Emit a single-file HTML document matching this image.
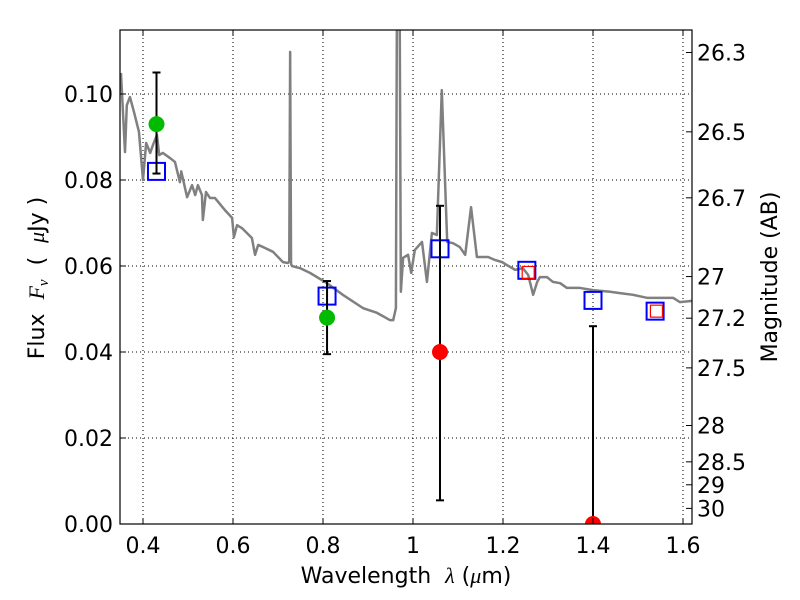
<!DOCTYPE html>
<html><head><meta charset="utf-8"><style>
body{margin:0;background:#fff;}
svg{display:block;font-family:"DejaVu Sans","Liberation Sans",sans-serif;}
</style></head><body>
<svg id="chart" width="800" height="600">
<defs><clipPath id="clip"><rect x="120" y="30" width="572" height="494"/></clipPath></defs>
<rect x="0" y="0" width="800" height="600" fill="#fff"/>
<g id="grid"></g>
<g id="spec" clip-path="url(#clip)"></g>
<g id="marks" clip-path="url(#clip)"></g>
<rect x="120" y="30" width="572" height="494" fill="none" stroke="#000" stroke-width="1.2"/>
<g id="axes"></g>
<text x="406" y="583" font-size="22" text-anchor="middle" xml:space="preserve">Wavelength  <tspan font-family="Liberation Serif" font-style="italic">λ</tspan> (<tspan font-family="Liberation Serif" font-style="italic">μ</tspan>m)</text>
<text transform="translate(44,278) rotate(-90)" font-size="22" text-anchor="middle" xml:space="preserve">Flux  <tspan font-family="Liberation Serif" font-style="italic">F</tspan><tspan font-family="Liberation Serif" font-style="italic" font-size="15" dy="4">ν</tspan><tspan dy="-4">  (  </tspan><tspan font-family="Liberation Serif" font-style="italic">μ</tspan>Jy )</text>
<text transform="translate(777,277) rotate(-90)" font-size="22" text-anchor="middle">Magnitude (AB)</text>
</svg>
<script>
const xTicks=[0.4,0.6,0.8,1.0,1.2,1.4,1.6];
const xTickLabels=["0.4","0.6","0.8","1","1.2","1.4","1.6"];
const yTicks=[0,0.02,0.04,0.06,0.08,0.10];
const yTickLabels=["0.00","0.02","0.04","0.06","0.08","0.10"];
const magTicks=[26.3,26.5,26.7,27,27.2,27.5,28,28.5,29,30];
const specWave=[0.351,0.360,0.364,0.371,0.380,0.391,0.400,0.407,0.416,0.422,0.431,0.436,0.444,0.460,0.471,0.482,0.485,0.498,0.509,0.516,0.522,0.531,0.533,0.540,0.549,0.560,0.582,0.598,0.602,0.609,0.620,0.642,0.649,0.656,0.667,0.689,0.711,0.722,0.725,0.727,0.729,0.731,0.749,0.771,0.809,0.844,0.889,0.920,0.949,0.956,0.962,0.964,0.966,0.970,0.973,0.978,0.989,0.996,1.004,1.020,1.031,1.042,1.053,1.064,1.076,1.089,1.104,1.116,1.129,1.142,1.167,1.182,1.198,1.209,1.227,1.244,1.256,1.267,1.276,1.282,1.298,1.311,1.327,1.342,1.371,1.400,1.438,1.460,1.489,1.520,1.549,1.578,1.593,1.620];
const specFlux=[0.1049,0.0865,0.0974,0.0993,0.0958,0.0912,0.0800,0.0886,0.0863,0.0881,0.0905,0.0858,0.0863,0.0851,0.0842,0.0795,0.0820,0.0760,0.0788,0.0765,0.0788,0.0765,0.0707,0.0772,0.0758,0.0758,0.0730,0.0712,0.0667,0.0695,0.0688,0.0665,0.0626,0.0649,0.0644,0.0633,0.0609,0.0607,0.0610,0.1098,0.0605,0.0600,0.0595,0.0584,0.0560,0.0533,0.0502,0.0491,0.0474,0.0474,0.0502,0.1137,0.13,0.13,0.0540,0.0619,0.0626,0.0584,0.0637,0.0656,0.0563,0.0677,0.0672,0.1009,0.0656,0.0653,0.0644,0.0626,0.0737,0.0621,0.0621,0.0614,0.0609,0.0602,0.0591,0.0595,0.0579,0.0533,0.0563,0.0574,0.0574,0.0563,0.0560,0.0549,0.0549,0.0544,0.0540,0.0537,0.0533,0.0526,0.0526,0.0526,0.0516,0.0519];
const modelWave=[0.43,0.809,1.06,1.253,1.40,1.538];
const modelFlux=[0.082,0.053,0.064,0.059,0.052,0.0495];
const obsSqWave=[1.256,1.541];
const obsSqFlux=[0.0585,0.0495];
const detWave=[0.43,0.809];
const detFlux=[0.093,0.048];
const ndWave=[1.06,1.40];
const ndFlux=[0.040,0.0];
const errWave=[0.43,0.809,1.06,1.40];
const errLow=[0.0815,0.0395,0.0055,-0.01];
const errHigh=[0.105,0.0565,0.074,0.046];

const NS="http://www.w3.org/2000/svg";
const X=v=>143+(v-0.4)*450;
const Y=f=>524-f*4300;
const M=m=>Y(Math.pow(10,(23.9-m)/2.5));
function mk(parent,tag,attrs){const e=document.createElementNS(NS,tag);for(const k in attrs)e.setAttribute(k,attrs[k]);document.getElementById(parent).appendChild(e);return e;}

xTicks.forEach((t,i)=>{
  const g=mk('grid','line',{x1:X(t),x2:X(t),y1:30,y2:524,stroke:'#000','stroke-width':1,'stroke-dasharray':'1,3'});
  
  
  const a=mk('axes','line',{x1:X(t),x2:X(t),y1:524,y2:518,stroke:'#000'});
  
  
  const b=mk('axes','line',{x1:X(t),x2:X(t),y1:30,y2:36,stroke:'#000'});
  
  
  const l=mk('axes','text',{x:X(t),y:553,'font-size':22,'text-anchor':'middle'});l.textContent=xTickLabels[i];
  
  
});
yTicks.forEach((t,i)=>{
  const g=mk('grid','line',{x1:120,x2:692,y1:Y(t),y2:Y(t),stroke:'#000','stroke-width':1,'stroke-dasharray':'1,3'});
  
  
  const a=mk('axes','line',{x1:120,x2:126,y1:Y(t),y2:Y(t),stroke:'#000'});
  
  
  const l=mk('axes','text',{x:113,y:Y(t)+8,'font-size':22,'text-anchor':'end'});l.textContent=yTickLabels[i];
  
  
});
magTicks.forEach(m=>{
  const a=mk('axes','line',{x1:686,x2:692,y1:M(m),y2:M(m),stroke:'#000'});
  
  
  const l=mk('axes','text',{x:697,y:M(m)+8,'font-size':22});l.textContent=String(m);
  
  
});
const sp=mk('spec','polyline',{points:specWave.map((w,i)=>X(w)+','+Y(specFlux[i])).join(' '),fill:'none',stroke:'#808080','stroke-width':2.5,'stroke-linejoin':'round'});


modelWave.forEach((w,i)=>{
  const r=mk('marks','rect',{x:X(w)-8.5,y:Y(modelFlux[i])-8.5,width:17,height:17,fill:'none',stroke:'#0000ff','stroke-width':2});
  
  
});
obsSqWave.forEach((w,i)=>{
  const r=mk('marks','rect',{x:X(w)-6,y:Y(obsSqFlux[i])-6,width:12,height:12,fill:'none',stroke:'#ff0000','stroke-width':1.2});
  
  
});
errWave.forEach((w,i)=>{
  const x=X(w);
  const v=mk('marks','line',{x1:x,x2:x,y1:Y(errLow[i]),y2:Y(errHigh[i]),stroke:'#000','stroke-width':2});
  
  
  [errLow[i],errHigh[i]].forEach(e=>{
    const c=mk('marks','line',{x1:x-4,x2:x+4,y1:Y(e),y2:Y(e),stroke:'#000','stroke-width':2});
    
    
  });
});
detWave.forEach((w,i)=>{
  const c=mk('marks','circle',{cx:X(w),cy:Y(detFlux[i]),r:8,fill:'#00bb00'});
  
  
});
ndWave.forEach((w,i)=>{
  const c=mk('marks','circle',{cx:X(w),cy:Y(ndFlux[i]),r:8,fill:'#ff0000'});
  
  
});
</script>
</body></html>
